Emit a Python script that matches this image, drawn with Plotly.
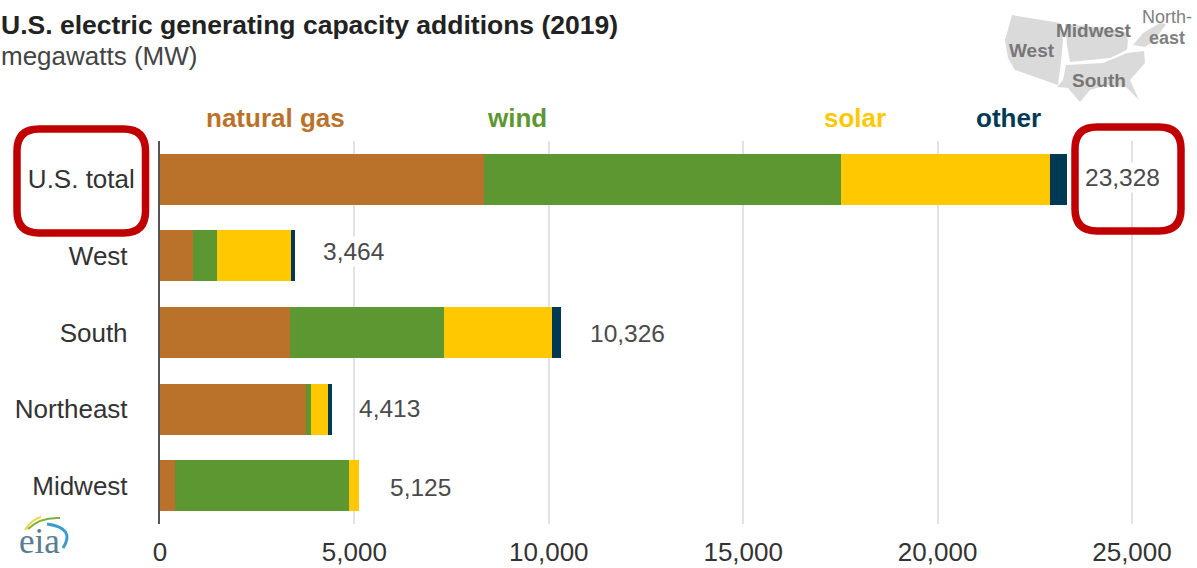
import plotly.graph_objects as go

# Capacity additions by region, in megawatts
regions = ["U.S. total", "West", "South", "Northeast", "Midwest"]
natural_gas = [8337, 848, 3340, 3751, 398]
wind = [9175, 617, 3957, 129, 4472]
solar = [5381, 1901, 2775, 450, 255]
other = [435, 98, 254, 83, 0]
totals = [23328, 3464, 10326, 4413, 5125]
x_ticks = [0, 5000, 10000, 15000, 20000, 25000]

W, H = 1197, 568
FONT = "Liberation Sans"
TEXT = "#4a4a4a"
RED = "#c00000"


def px(x):
    return x / W


def py(y):
    return 1 - y / H


def poly(points):
    """SVG path in page fractions for a polygon given in page pixels."""
    return "M" + " L".join(f"{px(x):.5f},{py(y):.5f}" for x, y in points) + " Z"


def curve(x0, y0, cx, cy, x1, y1):
    return f"M{px(x0):.5f},{py(y0):.5f} Q{px(cx):.5f},{py(cy):.5f} {px(x1):.5f},{py(y1):.5f}"


def rounded(x0, y0, x1, y1, r):
    pts = [
        f"M{px(x0 + r):.5f},{py(y0):.5f}",
        f"L{px(x1 - r):.5f},{py(y0):.5f}",
        f"Q{px(x1):.5f},{py(y0):.5f} {px(x1):.5f},{py(y0 + r):.5f}",
        f"L{px(x1):.5f},{py(y1 - r):.5f}",
        f"Q{px(x1):.5f},{py(y1):.5f} {px(x1 - r):.5f},{py(y1):.5f}",
        f"L{px(x0 + r):.5f},{py(y1):.5f}",
        f"Q{px(x0):.5f},{py(y1):.5f} {px(x0):.5f},{py(y1 - r):.5f}",
        f"L{px(x0):.5f},{py(y0 + r):.5f}",
        f"Q{px(x0):.5f},{py(y0):.5f} {px(x0 + r):.5f},{py(y0):.5f}",
    ]
    return " ".join(pts) + " Z"


# Region key map outlines, page pixels
MAP_WEST = [(1012, 15), (1060, 23), (1063, 40), (1061, 62), (1058, 85), (1035, 77),
            (1015, 70), (1008, 58), (1005, 40)]
MAP_MIDWEST = [(1065, 24), (1105, 28), (1125, 32), (1128, 40), (1127, 50),
                (1110, 58), (1070, 62), (1067, 45)]
MAP_NORTHEAST = [(1133, 45), (1143, 33), (1160, 23), (1166, 24), (1155, 40), (1145, 47)]
MAP_SOUTH = [(1066, 65), (1103, 63), (1127, 53), (1144, 51), (1145, 63), (1130, 80),
             (1139, 100), (1126, 87), (1107, 85), (1090, 90), (1080, 102), (1068, 88),
             (1057, 87), (1063, 80)]

fig = go.Figure()
series = [
    ("natural gas", natural_gas, "#ba722b"),
    ("wind", wind, "#5d9732"),
    ("solar", solar, "#ffc800"),
    ("other", other, "#003953"),
]
for name, values, color in series:
    fig.add_trace(go.Bar(
        y=regions, x=values, name=name, orientation="h",
        marker=dict(color=color, line=dict(width=0)),
        hovertemplate="%{y}: %{x:,} MW<extra>" + name + "</extra>",
    ))

annotations = []


def page_text(x, y, text, size, color, anchor="left", bold=False, family=FONT):
    label = f"<b>{text}</b>" if bold else text
    annotations.append(dict(
        xref="paper", yref="paper", x=px(x), y=py(y), text=label, showarrow=False,
        xanchor=anchor, yanchor="middle", borderpad=0,
        font=dict(family=family, size=size, color=color),
    ))


page_text(0, 25, "U.S. electric generating capacity additions (2019)", 26.5, "#222222", bold=True)
page_text(0, 56, "megawatts (MW)", 26, "#444444")

page_text(275, 118, "natural gas", 26, "#ba722b", "center", True)
page_text(517, 118, "wind", 26, "#5d9732", "center", True)
page_text(855, 118, "solar", 26, "#ffc800", "center", True)
page_text(1008, 118, "other", 26, "#003953", "center", True)

# Region names over the key map
page_text(1094, 30, "Midwest", 19, "#777777", "center", True)
page_text(1032, 50, "West", 19, "#777777", "center", True)
page_text(1099, 80, "South", 19, "#777777", "center", True)
page_text(1167, 17, "North-", 18, "#808080", "center")
page_text(1167, 38, "east", 18, "#808080", "center", True)

# Agency wordmark
page_text(39, 541, "eia", 35, "#5b7c90", "center", family="Liberation Serif")

# Total labels sit to the right of each stacked bar, masking the gridlines behind them
label_gaps = [18, 28, 29, 27, 31]
label_lifts = [2, 4, -1, 1, -2]
for region, total, gap, lift in zip(regions, totals, label_gaps, label_lifts):
    annotations.append(dict(
        x=total, y=region, xref="x", yref="y", text=f"{total:,}", showarrow=False,
        xanchor="left", yanchor="middle", xshift=gap - 2, yshift=lift,
        bgcolor="#ffffff", borderpad=1,
        font=dict(family=FONT, size=24.5, color=TEXT),
    ))

shapes = []
for outline in (MAP_WEST, MAP_MIDWEST, MAP_NORTHEAST, MAP_SOUTH):
    shapes.append(dict(type="path", xref="paper", yref="paper", path=poly(outline),
                       fillcolor="#dadada", line=dict(width=0), layer="below"))

# Logo arcs
for arc, color, width in (
    ((25, 530, 31, 520, 41, 517), "#f2d44b", 2),
    ((28, 529, 40, 517, 60, 518), "#7db33c", 2),
    ((47, 524, 76, 528, 63, 548), "#3b9ad0", 3),
):
    shapes.append(dict(type="path", xref="paper", yref="paper", path=curve(*arc),
                       line=dict(color=color, width=width)))

# Red call-out frames around the national row
for box in ((17, 129, 145.5, 233, 22), (1075, 127, 1181, 231, 22)):
    shapes.append(dict(type="path", xref="paper", yref="paper", path=rounded(*box),
                       fillcolor="rgba(0,0,0,0)", line=dict(color=RED, width=7.5)))

tick_labels = [r if r == "U.S. total" else r + "\u00a0" for r in regions]

fig.update_layout(
    width=W, height=H, autosize=False,
    margin=dict(l=0, r=0, t=0, b=0),
    paper_bgcolor="#ffffff", plot_bgcolor="#ffffff",
    barmode="stack", bargap=0.335, showlegend=False,
    font=dict(family=FONT, color=TEXT),
    xaxis=dict(
        automargin=False,
        domain=[160 / W, 1], range=[0, 26672], tickvals=x_ticks, tickformat=",",
        showgrid=True, gridcolor="#e2e2e2", gridwidth=2, zeroline=False, showline=False,
        ticks="outside", ticklen=5, tickcolor="rgba(0,0,0,0)",
        tickfont=dict(family=FONT, size=26, color="#333333"),
    ),
    yaxis=dict(
        automargin=False,
        domain=[44 / H, 427 / H], autorange="reversed", categoryorder="array",
        categoryarray=regions, tickvals=regions, ticktext=tick_labels,
        showgrid=False, zeroline=False, showline=True, linecolor="#555555", linewidth=2,
        ticks="outside", ticklen=18, tickcolor="rgba(0,0,0,0)",
        tickfont=dict(family=FONT, size=26, color="#333333"),
    ),
    annotations=annotations, shapes=shapes,
)

fig.write_html("out.html", config=dict(displayModeBar=False))
